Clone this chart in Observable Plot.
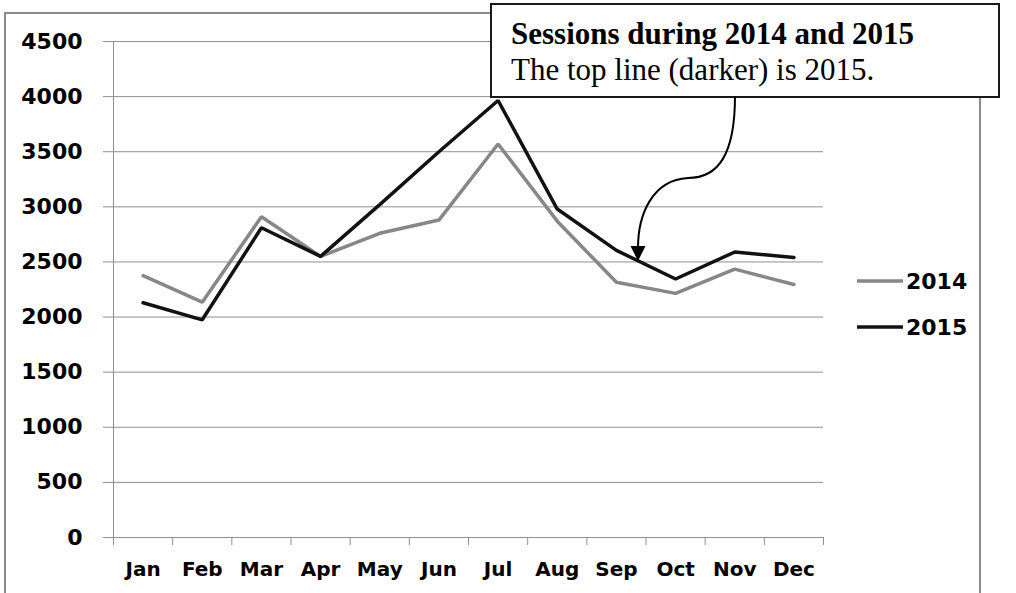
<!DOCTYPE html>
<html><head><meta charset="utf-8">
<script src="https://cdn.jsdelivr.net/npm/d3@7"></script>
<script src="https://cdn.jsdelivr.net/npm/@observablehq/plot@0.6"></script>
<style>
html,body{margin:0;padding:0;background:#fff;}
#wrap{position:relative;width:1016px;height:593px;overflow:hidden;background:#fff;}
#wrap svg{position:absolute;left:0;top:0;}
</style></head><body>
<div id="wrap"></div>
<script>
const months = ["Jan","Feb","Mar","Apr","May","Jun","Jul","Aug","Sep","Oct","Nov","Dec"];
const sessions2014 = [2375, 2135, 2910, 2550, 2760, 2880, 3570, 2870, 2315, 2215, 2435, 2295];
const sessions2015 = [2130, 1975, 2810, 2550, 3020, 3500, 3965, 2980, 2605, 2345, 2590, 2540];
const yTicks = [0, 500, 1000, 1500, 2000, 2500, 3000, 3500, 4000, 4500];
const seriesNames = ["2014", "2015"];
const seriesColors = ["#878787", "#121212"];
const titleText = "Sessions during 2014 and 2015";
const subtitleText = "The top line (darker) is 2015.";

const rows = [];
seriesNames.forEach((s, k) => {
  const vals = k === 0 ? sessions2014 : sessions2015;
  months.forEach((m, i) => rows.push({pos: i + 0.5, month: m, value: vals[i], series: s}));
});
const gridColor = "#8f8f8f";

const chart = Plot.plot({
  width: 1016, height: 593,
  marginLeft: 113, marginRight: 193, marginTop: 41, marginBottom: 56,
  style: {fontFamily: "DejaVu Sans", background: "transparent", overflow: "visible"},
  x: {type: "linear", domain: [0, months.length]},
  y: {domain: [0, 4500]},
  color: {domain: seriesNames, range: seriesColors},
  marks: [
    Plot.gridY(yTicks, {stroke: gridColor, strokeOpacity: 1, strokeWidth: 1}),
    Plot.axisY(yTicks, {tickSize: 10, tickFormat: () => "", color: gridColor, label: null}),
    Plot.axisY(yTicks, {tickSize: 0, tickPadding: 31, tickFormat: d => String(d), color: "#000", fontSize: 22, fontWeight: "bold", label: null}),
    Plot.ruleX([0], {y1: 0, y2: 4500, stroke: gridColor}),
    Plot.axisX(d3.range(0, months.length + 1), {tickSize: 8, tickFormat: () => "", color: gridColor, label: null}),
    Plot.axisX(months.map((m, i) => i + 0.5), {tickSize: 0, tickPadding: 24, tickFormat: d => months[Math.floor(d)], color: "#000", fontSize: 20, fontWeight: "bold", label: null}),
    Plot.line(rows, {x: "pos", y: "value", z: "series", stroke: "series", strokeWidth: 3.5, strokeLinejoin: "miter"})
  ]
});
const wrap = document.getElementById("wrap");
wrap.appendChild(chart);

// overlay: frame, legend, annotation
const svg = d3.select(wrap).append("svg").attr("width", 1016).attr("height", 593);
svg.append("path").attr("d", "M5,600V13H980V600").attr("fill", "none").attr("stroke", "#8a8a8a").attr("stroke-width", 2);

const leg = svg.append("g");
seriesNames.forEach((s, k) => {
  const y = 281 + k * 46;
  leg.append("line").attr("x1", 857).attr("x2", 903).attr("y1", y).attr("y2", y)
    .attr("stroke", seriesColors[k]).attr("stroke-width", 3.5);
  leg.append("text").attr("x", 906).attr("y", y).attr("dy", "0.36em")
    .attr("font-family", "DejaVu Sans").attr("font-weight", "bold").attr("font-size", 22).attr("fill", "#000").text(s);
});

svg.append("rect").attr("x", 491).attr("y", 4).attr("width", 508).attr("height", 93)
  .attr("fill", "#fff").attr("stroke", "#1a1a1a").attr("stroke-width", 2);
svg.append("text").attr("x", 511).attr("y", 44).attr("font-family", "Liberation Serif").attr("font-weight", "bold")
  .attr("font-size", 31).attr("fill", "#000").text(titleText);
svg.append("text").attr("x", 511).attr("y", 80).attr("font-family", "Liberation Serif")
  .attr("font-size", 31).attr("fill", "#000").text(subtitleText);

svg.append("path").attr("d", "M735,96C735,155 718,178 688,178C652,180 638,215 638,248")
  .attr("fill", "none").attr("stroke", "#000").attr("stroke-width", 2);
svg.append("path").attr("d", "M630.5,246L645.5,246L638,261Z").attr("fill", "#000");
</script>
</body></html>
